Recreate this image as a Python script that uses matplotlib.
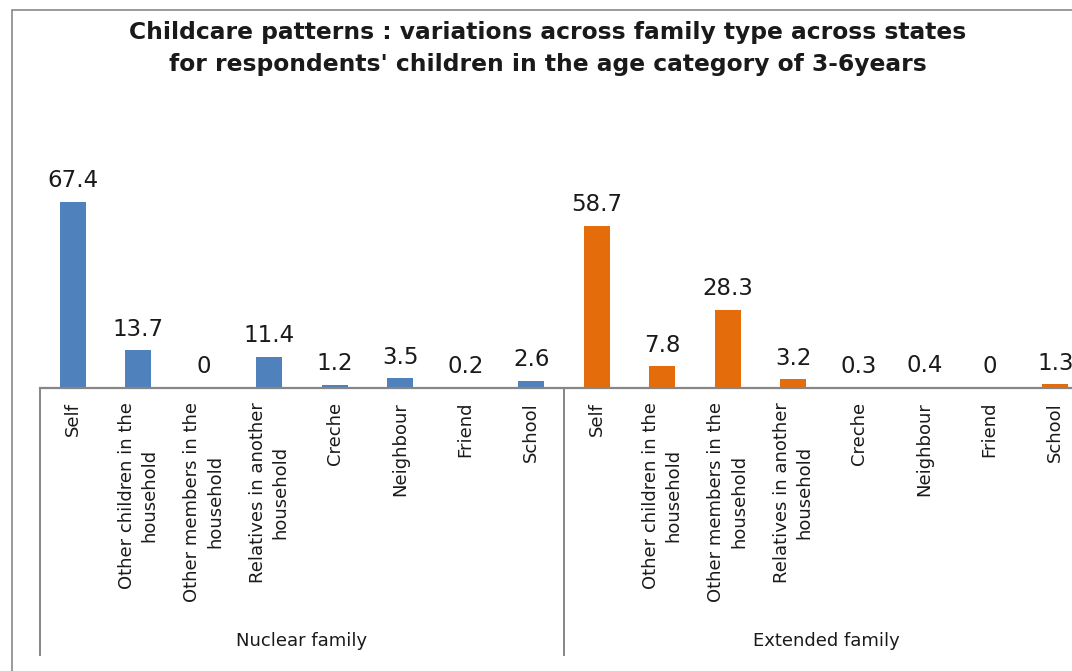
import matplotlib
matplotlib.use("Agg")
import matplotlib.pyplot as plt
from matplotlib.transforms import blended_transform_factory
from matplotlib.patches import Rectangle

plt.rcParams['font.family'] = ['DejaVu Sans']

categories = ["Self", "Other children in the\nhousehold", "Other members in the\nhousehold",
              "Relatives in another\nhousehold", "Creche", "Neighbour", "Friend", "School"]
groups = ["Nuclear family", "Extended family"]
nuclear_values = [67.4, 13.7, 0, 11.4, 1.2, 3.5, 0.2, 2.6]
extended_values = [58.7, 7.8, 28.3, 3.2, 0.3, 0.4, 0, 1.3]
colors = ["#4F81BD", "#E46C0A"]
title = ("Childcare patterns : variations across family type across states\n"
         "for respondents' children in the age category of 3-6years")

W, H = 1072, 671
fig = plt.figure(figsize=(W / 100, H / 100), dpi=100)

# chart border
fig.patches.append(Rectangle((12 / W, -0.1), 1.2, (H - 10) / H + 0.1, transform=fig.transFigure,
                             fill=False, edgecolor="#898989", linewidth=1.2))

ymax = 80
ax = fig.add_axes([40 / W, (H - 388) / H, 1048 / W, 221 / H])
n = len(categories)
series = [nuclear_values, extended_values]
all_labels = []
for gi, vals in enumerate(series):
    xs = [gi * n + i for i in range(n)]
    ax.bar(xs, vals, width=0.4, color=colors[gi], zorder=2)
    for x, v in zip(xs, vals):
        ax.annotate(f"{v:g}", (x, v), xytext=(0, 10.5), textcoords="offset points",
                    ha="center", va="baseline", fontsize=16.5, color="#1a1a1a")
    all_labels += categories

ax.set_xlim(-0.5, 2 * n - 0.5)
ax.set_ylim(0, ymax)
ax.set_xticks(range(2 * n))
ax.set_xticklabels(all_labels, rotation=90, fontsize=13, linespacing=1.35,
                   multialignment="center", color="#1a1a1a")
ax.tick_params(axis="x", length=0, pad=10)
ax.set_yticks([])
for s in ["top", "left", "right"]:
    ax.spines[s].set_visible(False)
ax.spines["bottom"].set_color("#868686")
ax.spines["bottom"].set_linewidth(1.6)

trans = blended_transform_factory(ax.transData, ax.transAxes)
for b in [-0.5, n - 0.5, 2 * n - 0.5]:
    ax.plot([b, b], [0, (388 - 655) / 221], transform=trans, color="#868686",
            linewidth=1.4, clip_on=False)
for gi, g in enumerate(groups):
    ax.text(gi * n + (n - 1) / 2, (388 - 641) / 221, g, transform=trans, ha="center",
            va="center", fontsize=13, color="#1a1a1a")

fig.text(548 / W, 1 - 49 / H, title, ha="center", va="center", fontsize=16.8,
         fontweight="bold", linespacing=1.5, color="#1a1a1a")

fig.savefig("out.png", dpi=100)
